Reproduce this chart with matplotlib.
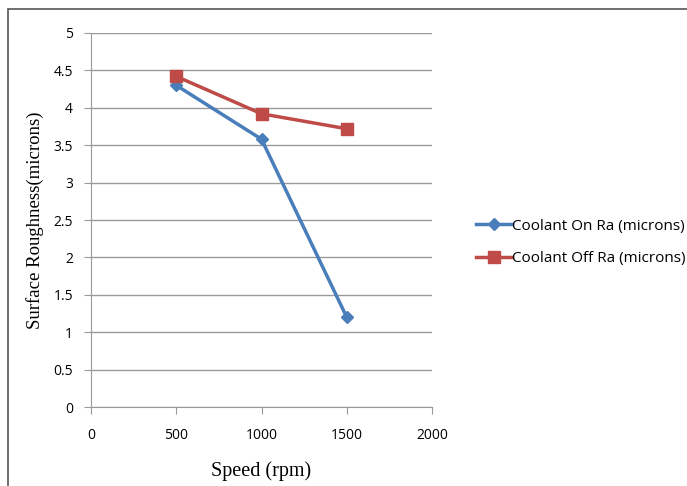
import matplotlib
matplotlib.use('Agg')
import matplotlib.pyplot as plt
from matplotlib.patches import Rectangle

speed = [500, 1000, 1500]
coolant_on = [4.3, 3.58, 1.2]
coolant_off = [4.42, 3.92, 3.72]

plt.rcParams['font.family'] = ['Open Sans', 'DejaVu Sans']

fig = plt.figure(figsize=(6.87, 4.86), dpi=100)
ax = fig.add_axes([91 / 687, 79 / 486, (432 - 91) / 687, (407 - 33) / 486])

# outer frame of the chart area
fig.patches.append(Rectangle((8 / 687, -0.1), 1.2, 1 - 9 / 486 + 0.1,
                             transform=fig.transFigure, fill=False,
                             edgecolor='#555555', linewidth=1.2))

ax.plot(speed, coolant_on, color='#4A7EBB', linewidth=2.5, marker='D',
        markersize=6, label='Coolant On Ra (microns)')
ax.plot(speed, coolant_off, color='#BE4B48', linewidth=2.5, marker='s',
        markersize=8, label='Coolant Off Ra (microns)')

ax.set_xlim(0, 2000)
ax.set_ylim(0, 5)
ax.set_xticks([0, 500, 1000, 1500, 2000])
ax.set_yticks([0, 0.5, 1, 1.5, 2, 2.5, 3, 3.5, 4, 4.5, 5])
ax.set_yticklabels(['0', '0.5', '1', '1.5', '2', '2.5', '3', '3.5', '4', '4.5', '5'])
ax.grid(axis='y', color='#999999', linewidth=1)
ax.set_axisbelow(True)
for s in ['top', 'right']:
    ax.spines[s].set_visible(False)
for s in ['left', 'bottom']:
    ax.spines[s].set_color('#999999')
ax.tick_params(colors='#999999', labelcolor='black', labelsize=10, length=5)
ax.tick_params(axis='y', pad=8)
ax.tick_params(axis='x', pad=10)

ax.set_xlabel('Speed (rpm)', family='Liberation Serif', fontsize=14.5, labelpad=13)
ax.set_ylabel('Surface Roughness(microns)', family='Liberation Serif', fontsize=13.5, labelpad=7)

ax.legend(loc='center left', bbox_to_anchor=(1.088, 0.44), frameon=False,
          fontsize=11, handlelength=2.4, handletextpad=0.0, labelspacing=1.15)

fig.savefig('out.png', dpi=100)
